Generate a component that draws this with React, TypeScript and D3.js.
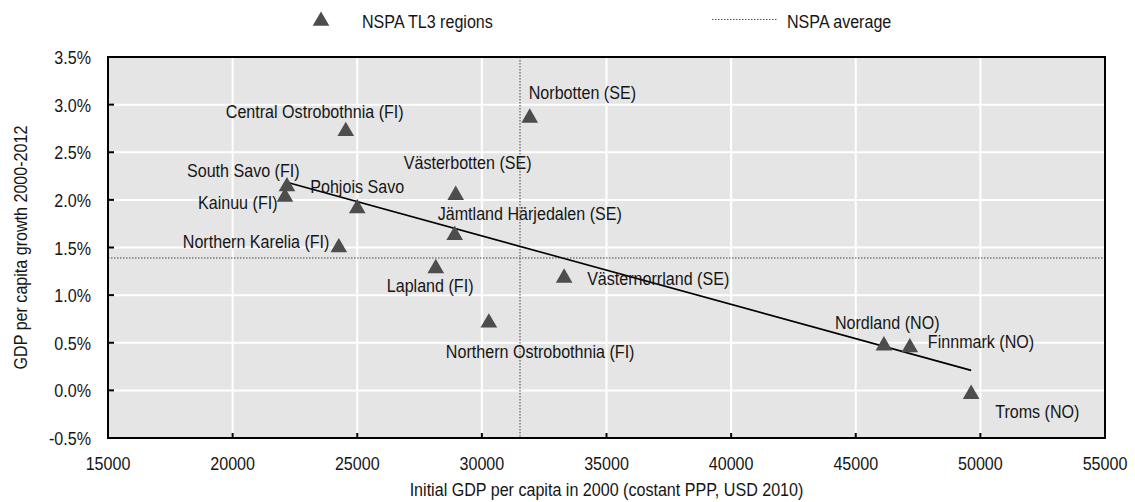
import React from "react";
import * as d3 from "d3";

const regions = [
  "Central Ostrobothnia (FI)",
  "South Savo (FI)",
  "Kainuu (FI)",
  "Pohjois Savo",
  "Northern Karelia (FI)",
  "Västerbotten (SE)",
  "Jämtland Härjedalen (SE)",
  "Lapland (FI)",
  "Northern Ostrobothnia (FI)",
  "Västernorrland (SE)",
  "Norbotten (SE)",
  "Nordland (NO)",
  "Finnmark (NO)",
  "Troms (NO)",
];
const gdp2000 = [24540, 22180, 22100, 25000, 24260, 28950, 28910, 28150, 30280, 33300, 31920, 46130, 47170, 49630];
const growth = [2.72, 2.14, 2.03, 1.91, 1.5, 2.05, 1.63, 1.28, 0.71, 1.18, 2.86, 0.47, 0.45, -0.04];
// label offsets (px) relative to marker, text-anchor start
const labelDx = [-120, -100, -87, -47, -156, -52, -17, -49, -43, 23, -1, -49, 18, 24];
const labelDy = [-13, -10, 12, -15, 0, -26, -15, 24, 35, 7, -19, -17, 0, 24];

const trendX = [22100, 49630];
const trendY = [2.19, 0.21];
const avgGdp = 31530;
const avgGrowth = 1.39;

const xTicks = [15000, 20000, 25000, 30000, 35000, 40000, 45000, 50000, 55000];
const yTicks = [-0.5, 0, 0.5, 1.0, 1.5, 2.0, 2.5, 3.0, 3.5];

const W = 1135;
const H = 502;
const FONT = "'Liberation Sans', Arial, sans-serif";
const FS = 18.5;
const SX = 0.87;
const TEXT_COLOR = "#151515";

function T(props: { x: number; y: number; anchor?: string; rotate?: number; children: React.ReactNode }) {
  const { x, y, anchor = "start", rotate = 0, children } = props;
  return (
    <text
      transform={`translate(${x},${y}) rotate(${rotate}) scale(${SX},1)`}
      fontSize={FS}
      fill={TEXT_COLOR}
      textAnchor={anchor}
    >
      {children}
    </text>
  );
}

export default function App() {
  const x = d3.scaleLinear().domain([15000, 55000]).range([108, 1105]);
  const y = d3.scaleLinear().domain([-0.5, 3.5]).range([438, 57]);
  const tri = d3.symbol().type(d3.symbolTriangle).size(120)() as string;
  const line = d3
    .line<number>()
    .x((_, i) => x(trendX[i]))
    .y((v) => y(v));
  const [x0, x1] = x.range();
  const [y0, y1] = y.range();
  return (
    <svg
      width={W}
      height={H}
      style={{ position: "absolute", left: 0, top: 0, fontFamily: FONT }}
    >
      <rect width={W} height={H} fill="#fff" />
      {/* legend */}
      <path d={tri} transform="translate(321,21)" fill="#4d4d4d" />
      <T x={362} y={28}>NSPA TL3 regions</T>
      <line x1={712} x2={778} y1={19.5} y2={19.5} stroke="#555" strokeWidth={1} strokeDasharray="1.5,1.5" />
      <T x={787} y={28}>NSPA average</T>

      {/* plot background */}
      <rect x={x0} y={y1} width={x1 - x0} height={y0 - y1} fill="#e5e5e5" />
      {xTicks.slice(1, -1).map((t) => (
        <line key={"gx" + t} x1={x(t)} x2={x(t)} y1={y1} y2={y0} stroke="#fff" strokeWidth={2} />
      ))}
      {yTicks.slice(1, -1).map((t) => (
        <line key={"gy" + t} x1={x0} x2={x1} y1={y(t)} y2={y(t)} stroke="#fff" strokeWidth={2} />
      ))}

      {/* average lines */}
      <line x1={x(avgGdp)} x2={x(avgGdp)} y1={y1} y2={y0} stroke="#444" strokeWidth={1} strokeDasharray="1.5,1.5" />
      <line x1={x0} x2={x1} y1={y(avgGrowth)} y2={y(avgGrowth)} stroke="#444" strokeWidth={1} strokeDasharray="1.5,1.5" />

      {/* trend line */}
      <path d={line(trendY) as string} fill="none" stroke="#000" strokeWidth={1.6} />

      {/* markers */}
      {regions.map((r, i) => (
        <path
          key={"m" + r}
          d={tri}
          transform={`translate(${x(gdp2000[i])},${y(growth[i])})`}
          fill="#4d4d4d"
        />
      ))}
      {regions.map((r, i) => (
        <T key={"l" + r} x={x(gdp2000[i]) + labelDx[i]} y={y(growth[i]) + labelDy[i]}>
          {r}
        </T>
      ))}

      {/* frame */}
      <rect x={x0} y={y1} width={x1 - x0} height={y0 - y1} fill="none" stroke="#000" strokeWidth={2} />
      {xTicks.slice(1, -1).map((t) => (
        <line key={"tx" + t} x1={x(t)} x2={x(t)} y1={y0} y2={y0 - 5} stroke="#000" strokeWidth={2} />
      ))}
      {yTicks.slice(1, -1).map((t) => (
        <line key={"ty" + t} x1={x0} x2={x0 + 6} y1={y(t)} y2={y(t)} stroke="#000" strokeWidth={2} />
      ))}

      {/* tick labels */}
      {xTicks.map((t) => (
        <T key={"lx" + t} x={x(t)} y={469.5} anchor="middle">
          {String(t)}
        </T>
      ))}
      {yTicks.map((t) => (
        <T key={"ly" + t} x={91} y={y(t) + 7} anchor="end">
          {t.toFixed(1) + "%"}
        </T>
      ))}

      {/* axis titles */}
      <T x={(x0 + x1) / 2} y={496} anchor="middle">
        Initial GDP per capita in 2000 (costant PPP, USD 2010)
      </T>
      <T x={27} y={(y0 + y1) / 2} anchor="middle" rotate={-90}>
        GDP per capita growth 2000-2012
      </T>
    </svg>
  );
}
